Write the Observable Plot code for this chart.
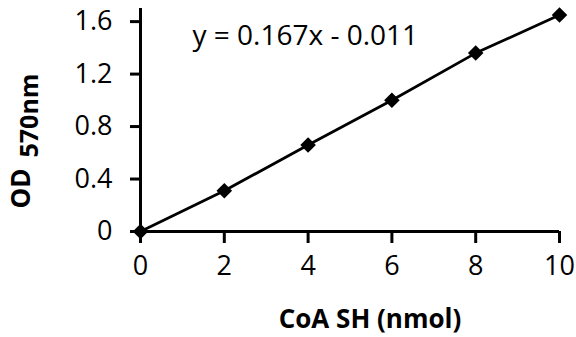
<!DOCTYPE html>
<html><head><meta charset="utf-8">
<script src="https://cdn.jsdelivr.net/npm/d3@7"></script>
<script src="https://cdn.jsdelivr.net/npm/@observablehq/plot@0.6"></script>
<style>html,body{margin:0;padding:0;background:#fff} svg{display:block}</style>
</head><body><div id="chart"></div>
<script>
const coa = [0, 2, 4, 6, 8, 10];
const od = [0, 0.31, 0.66, 1.0, 1.36, 1.65];
const xTicks = [0, 2, 4, 6, 8, 10];
const yTicks = [0, 0.4, 0.8, 1.2, 1.6];
const equation = "y = 0.167x - 0.011";
const xLabel = "CoA SH (nmol)";
const yLabelMain = "OD";
const yLabelSub = "570nm";

const data = coa.map((x, i) => ({x, y: od[i]}));
const font = "'Open Sans', sans-serif";

const plot = Plot.plot({
  width: 576, height: 337,
  marginLeft: 140, marginRight: 17, marginTop: 8, marginBottom: 106,
  style: {fontFamily: font, fontSize: "28px", color: "#000", background: "#fff"},
  x: {domain: [0, 10], label: null},
  y: {domain: [0, 1.7], label: null},
  marks: [
    Plot.axisX({ticks: xTicks, tickSize: 12, tickPadding: 12, strokeWidth: 3, label: null, fontSize: 27}),
    Plot.axisY({ticks: yTicks, tickSize: 10, tickPadding: 18, strokeWidth: 3, label: null, fontSize: 27,
      tickFormat: d => d === 0 ? "0" : d.toFixed(1)}),
    Plot.ruleX([0], {strokeWidth: 3}),
    Plot.ruleY([0], {strokeWidth: 3}),
    Plot.line(data, {x: "x", y: "y", strokeWidth: 2.8, stroke: "#000"}),
    Plot.dot(data, {x: "x", y: "y", symbol: "diamond2", r: 7, fill: "#000", stroke: "none"}),
    Plot.text([equation], {frameAnchor: "top-left", textAnchor: "start", lineAnchor: "bottom", dx: 52, dy: 36, fontSize: 28, fill: "#000"}),
    Plot.text([xLabel], {frameAnchor: "bottom", lineAnchor: "bottom", dx: 20, dy: 96, fontSize: 26, fontWeight: "bold", fill: "#000"}),
    Plot.text([yLabelMain], {frameAnchor: "left", textAnchor: "start", lineAnchor: "bottom", rotate: -90, dx: -110.5, dy: 88.5, fontSize: 26, fontWeight: "bold", fill: "#000"}),
    Plot.text([yLabelSub], {frameAnchor: "left", textAnchor: "start", lineAnchor: "bottom", rotate: -90, dx: -103, dy: 37.5, fontSize: 25, fontWeight: "bold", fill: "#000"})
  ]
});
document.getElementById("chart").appendChild(plot);
</script>
</body></html>
